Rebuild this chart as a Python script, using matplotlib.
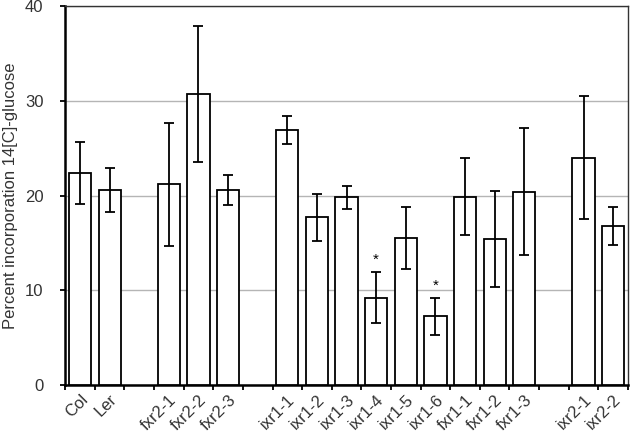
import numpy as np
import matplotlib
matplotlib.use("Agg")
import matplotlib.pyplot as plt
import matplotlib.transforms as mtransforms

# ---------------- data ----------------
labels = ["Col", "Ler", "", "fxr2-1", "fxr2-2", "fxr2-3", "",
          "ixr1-1", "ixr1-2", "ixr1-3", "ixr1-4", "ixr1-5", "ixr1-6",
          "fxr1-1", "fxr1-2", "fxr1-3", "", "ixr2-1", "ixr2-2"]
means = [22.4, 20.6, np.nan, 21.2, 30.7, 20.6, np.nan,
         26.9, 17.7, 19.8, 9.2, 15.5, 7.25,
         19.9, 15.4, 20.4, np.nan, 24.0, 16.8]
errors = [3.3, 2.3, np.nan, 6.5, 7.2, 1.6, np.nan,
          1.5, 2.5, 1.25, 2.7, 3.3, 1.95,
          4.1, 5.1, 6.7, np.nan, 6.5, 2.0]
stars = ["", "", "", "", "", "", "",
         "", "", "", "*", "", "*",
         "", "", "", "", "", ""]

plt.rcParams['font.family'] = ['Liberation Sans', 'DejaVu Sans']
txt_col = "#333333"

fig = plt.figure(figsize=(6.33, 4.37), dpi=100)
ax = fig.add_axes([0.103, 0.119, 0.889, 0.867])

x = np.arange(len(labels))
m = np.array(means)
e = np.array(errors)
ok = ~np.isnan(m)

ax.bar(x[ok], m[ok], width=0.75, color="white", edgecolor="black",
       linewidth=1.3, zorder=3)
ax.errorbar(x[ok], m[ok], yerr=e[ok], fmt="none", ecolor="black",
            elinewidth=1.3, capsize=3.4, capthick=1.3, zorder=4)

for xi, mi, ei, s in zip(x, m, e, stars):
    if s:
        ax.text(xi, mi + ei + 1.3, s, ha="center", va="center", fontsize=11)

ax.set_xlim(-0.5, len(labels) - 0.5)
ax.set_ylim(0, 40)
ax.set_yticks([0, 10, 20, 30, 40])
ax.yaxis.grid(True, color="#b5b5b5", linewidth=1.0, zorder=0)
ax.set_axisbelow(True)

ax.set_xticks(x)
ax.set_xticklabels(labels, rotation=45, ha="right", rotation_mode="anchor",
                   fontsize=12, color=txt_col)
offset = mtransforms.ScaledTranslation(17 / 100, 0, fig.dpi_scale_trans)
for lab in ax.get_xticklabels():
    lab.set_transform(lab.get_transform() + offset)
ax.tick_params(axis="x", which="major", length=0, pad=5)
ax.set_xticks(np.arange(-0.5, len(labels) + 0.5, 1), minor=True)
ax.tick_params(axis="x", which="minor", length=3.6, width=1.3, direction="out")
ax.tick_params(axis="y", length=3.6, width=1.3, direction="out", pad=12,
               labelsize=12, labelcolor=txt_col)

ax.set_ylabel("Percent incorporation 14[C]-glucose", fontsize=12,
              color=txt_col)
ax.yaxis.set_label_coords(-0.084, 0.5)

for side in ["left", "bottom"]:
    ax.spines[side].set_linewidth(1.8)
for side in ["top", "right"]:
    ax.spines[side].set_linewidth(1.0)
    ax.spines[side].set_color("#333333")

fig.savefig("out.png", dpi=100)
